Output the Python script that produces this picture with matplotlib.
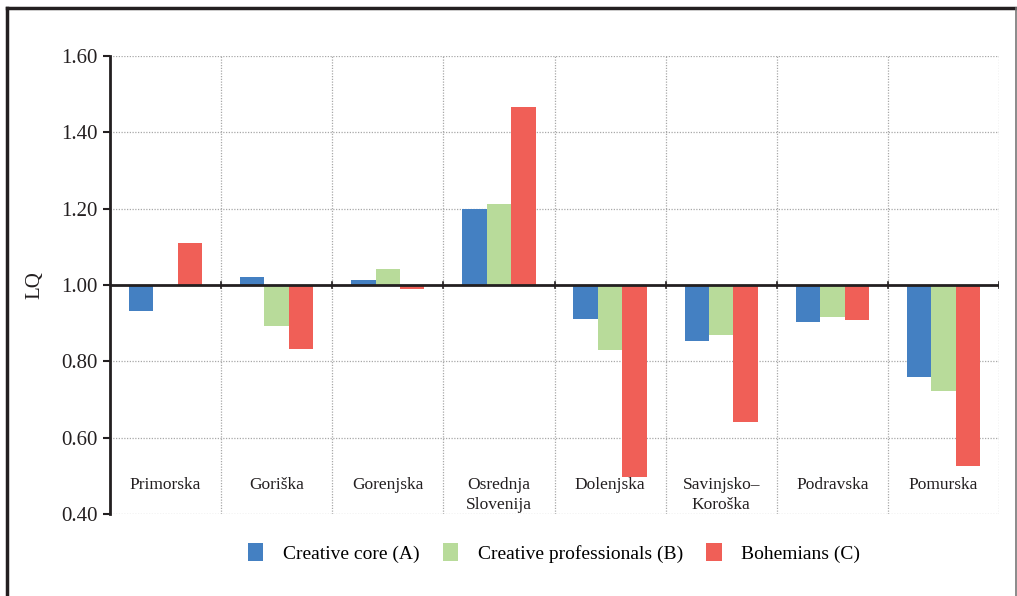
import matplotlib
matplotlib.use("Agg")
import matplotlib.pyplot as plt
import numpy as np
from matplotlib.lines import Line2D
from matplotlib.patches import Patch

plt.rcParams['font.family'] = ['Liberation Serif', 'DejaVu Serif']

regions = ["Primorska", "Goriška", "Gorenjska", "Osrednja\nSlovenija", "Dolenjska",
           "Savinjsko–\nKoroška", "Podravska", "Pomurska"]
creative_core = [0.932, 1.020, 1.012, 1.199, 0.911, 0.854, 0.903, 0.759]
creative_prof = [1.000, 0.892, 1.042, 1.212, 0.829, 0.870, 0.916, 0.723]
bohemians = [1.110, 0.833, 0.990, 1.467, 0.498, 0.641, 0.908, 0.525]
series_names = ["Creative core (A)", "Creative professionals (B)", "Bohemians (C)"]
colors = ["#4480C2", "#B8DB9A", "#F05F57"]
yticks = [0.40, 0.60, 0.80, 1.00, 1.20, 1.40, 1.60]
baseline = 1.0

fig = plt.figure(figsize=(10.17, 5.96), dpi=100)
ax = fig.add_axes([110/1017, 1-514/596, (999-110)/1017, (514-56)/596])

x = np.arange(len(regions))
w = 0.22
for i, (vals, c, name) in enumerate(zip([creative_core, creative_prof, bohemians], colors, series_names)):
    v = np.array(vals)
    ax.bar(x + (i-1)*w, v - baseline, width=w, bottom=baseline, color=c, label=name, zorder=3)

ax.set_xlim(-0.5, len(regions)-0.5)
ax.set_ylim(0.40, 1.60)
ax.set_yticks(yticks)
ax.set_yticklabels([f"{t:.2f}" for t in yticks], fontsize=15, color="#231f20")
ax.tick_params(axis='y', length=5, width=1.5, color="#231f20", pad=4, direction='out')
ax.set_xticks([])

grid_kw = dict(color="#a8a8a8", lw=0.9, ls=(0, (1, 1.2)), zorder=1)
for t in yticks:
    if t != baseline:
        ax.axhline(t, **grid_kw)
for b in np.arange(0.5, len(regions), 1.0):
    ax.axvline(b, **grid_kw)
    ax.plot([b, b], [baseline-0.008, baseline+0.008], color="#231f20", lw=1.2, zorder=4)
ax.axhline(baseline, color="#231f20", lw=2, zorder=4)

for s in ["top", "right", "bottom"]:
    ax.spines[s].set_visible(False)
ax.spines["left"].set_linewidth(2)
ax.spines["left"].set_color("#231f20")

for xi, name in zip(x, regions):
    ax.text(xi, 0.497, name, ha='center', va='top', fontsize=12.5, color="#231f20",
            linespacing=1.3, zorder=5)

ax.set_ylabel("LQ", fontsize=15, color="#231f20", labelpad=12)

handles = [Patch(facecolor=c, label=n) for c, n in zip(colors, series_names)]
fig.legend(handles=handles, loc='center', bbox_to_anchor=(554/1017, 1-553/596), ncol=3,
           frameon=False, fontsize=14, handlelength=0.8, handleheight=1.0,
           handletextpad=1.0, columnspacing=1.2)

# figure border (left, top, right)
fig.add_artist(Line2D([7/1017, 7/1017], [0, 1-8/596], color="#231f20", lw=2.5, transform=fig.transFigure))
fig.add_artist(Line2D([7/1017, 1016/1017], [1-8/596, 1-8/596], color="#231f20", lw=2.5, transform=fig.transFigure))
fig.add_artist(Line2D([1016/1017, 1016/1017], [0, 1-8/596], color="#777777", lw=1.2, transform=fig.transFigure))

fig.savefig("out.png", dpi=100)
